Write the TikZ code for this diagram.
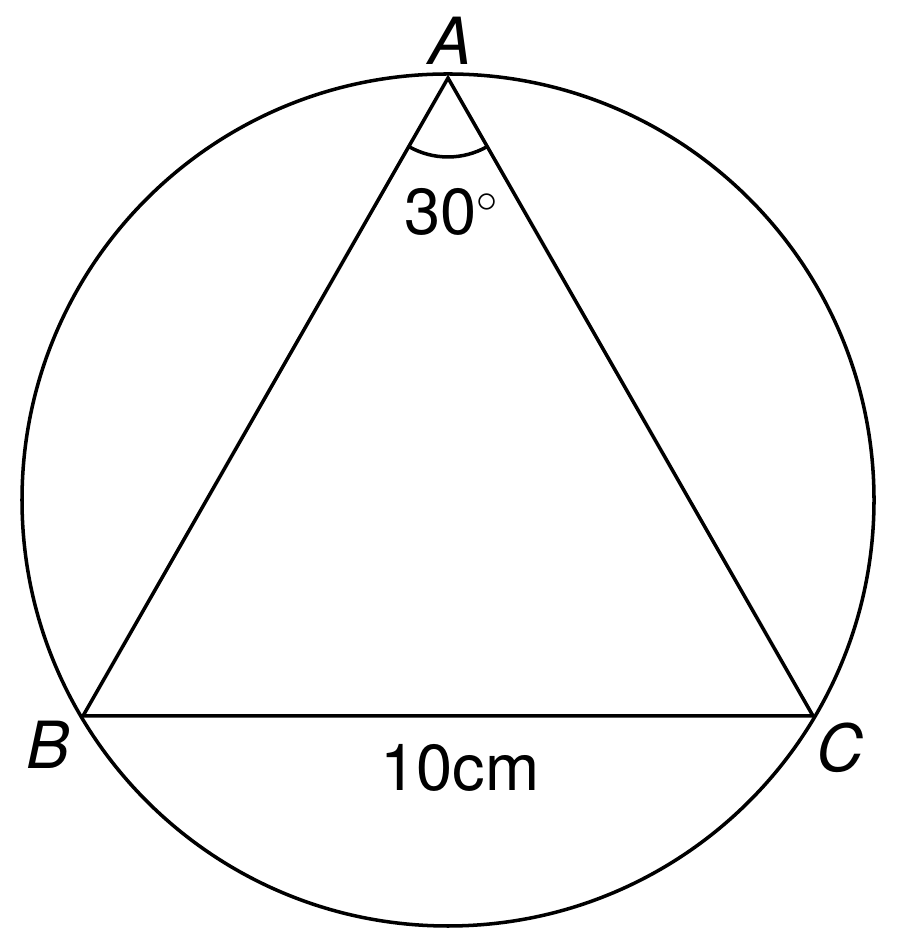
\documentclass[tikz,border=0pt]{standalone}
\usepackage{fontspec}
\setmainfont{TeX Gyre Heros}
\usetikzlibrary{angles,calc}

\begin{document}
\begin{tikzpicture}[line width=1pt,
    lab/.style={font=\fontsize{18.5}{22}\selectfont}]
        \useasboundingbox (0,0) rectangle (9,9.39);
        % Cercle
        \coordinate (O) at (4.48,4.39);
        \draw (O) circle (4.26);
        % Sommets
        \coordinate (A) at ($(O)+(90:4.22)$);
        \coordinate (B) at ($(O)+(210.6:4.24)$);
        \coordinate (C) at ($(O)+(329.4:4.24)$);
        % Triangle
        \draw (A) -- (B) -- (C) -- cycle;
        % Angle en A
        \pic[draw, angle radius=0.79cm] {angle=B--A--C};
        % Etiquettes
        \node[lab] (labA) at (4.50,8.98) {\textit{A}};
        \node[lab] (labB) at (0.48,1.94) {\textit{B}};
        \node[lab] (labC) at (8.40,1.91) {\textit{C}};
        \node[lab] (ang) at (4.52,7.27) {30$^\circ$};
        \node[lab] (bc) at (4.60,1.71) {10cm};
     \end{tikzpicture}
\end{document}
